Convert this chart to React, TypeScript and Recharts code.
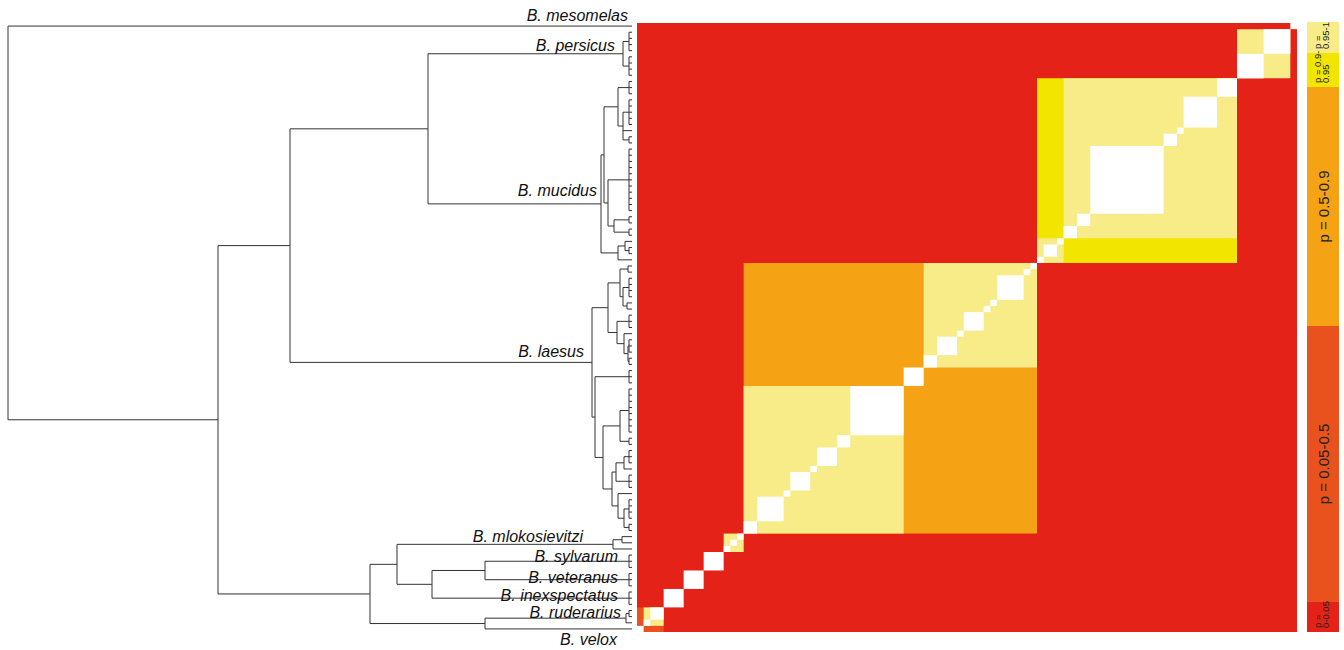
import React from "react";
import {
  ComposedChart,
  Line,
  Scatter,
  XAxis,
  YAxis,
  ReferenceArea,
  BarChart,
  Bar,
} from "recharts";

const W = 1344;
const H = 650;

type Tree = number | string | Tree[];

// subtrees: [height, ...children]; a bare number k = run of k identical haplotypes
// leaves are listed bottom (B. velox) to top (B. mesomelas)
const veloxTree: Tree = 1;
const ruderariusTree: Tree = [6, 1, 2];
const inexspectatusTree: Tree = 3;
const veteranusTree: Tree = 3;
const sylvarumTree: Tree = 3;
const mlokosievitziTree: Tree = [19, 1, [10, 1, 1]];
const laesusA: Tree = [29, [20, [14, [8, 2, 4], 1], [16, 3, [8, 1, 3]]], [12, 2, 8]];
const laesusB: Tree = [24, [15, [8, [4, 2, 3], 1], 3], [12, [9, [5, 1, 1], 4], [4, 1, 1]]];
const laesusTree: Tree = [40, [37, laesusA, 3], laesusB];
const mucidusTree: Tree = [31, [14, 1, [7, 2, 1]], [28, [24, [18, 2, 2], 11], [14, [9, 2, 1, 5], 3]]];
const persicusTree: Tree = [9, 4, 4];
const mesomelasTree: Tree = 1;

const speciesTrees: Record<string, Tree> = {
  "B. velox": veloxTree,
  "B. ruderarius": ruderariusTree,
  "B. inexspectatus": inexspectatusTree,
  "B. veteranus": veteranusTree,
  "B. sylvarum": sylvarumTree,
  "B. mlokosievitzi": mlokosievitziTree,
  "B. laesus": laesusTree,
  "B. mucidus": mucidusTree,
  "B. persicus": persicusTree,
  "B. mesomelas": mesomelasTree,
};

const backbone: Tree = [
  624,
  [
    414,
    [262, [147, "B. velox", "B. ruderarius"], [235, [200, "B. inexspectatus", [147, "B. veteranus", "B. sylvarum"]], "B. mlokosievitzi"]],
    [342, "B. laesus", [204, "B. mucidus", "B. persicus"]],
  ],
  "B. mesomelas",
];

// heatmap clusters (leaf index ranges) and their probability class
const blockStart = [0, 1, 13, 16, 16, 43, 60, 60, 64, 90];
const blockEnd = [4, 4, 16, 60, 40, 60, 90, 64, 90, 98];
const blockClass = [1, 4, 4, 2, 4, 4, 3, 4, 4, 4];

// legend, bottom to top
const pColors = ["#E42218", "#E9521C", "#F5A315", "#F2E500", "#F7EC88"];
const pSizes = [30, 276, 239, 34, 31];
const pLines = [["p =", "0-0.05"], ["p = 0.05-0.5"], ["p = 0.5-0.9"], ["p = 0.9-", "0.95"], ["p =", "0.95-1"]];

// label placement: [right edge (distance units), vertical offset px from branch]
const labelLayout: Record<string, [number, number]> = {
  "B. mesomelas": [4, -5],
  "B. persicus": [17, -3],
  "B. mucidus": [35, -8],
  "B. laesus": [48, -5],
  "B. mlokosievitzi": [49, -2],
  "B. sylvarum": [14, 1],
  "B. veteranus": [14, 3],
  "B. inexspectatus": [14, 3],
  "B. ruderarius": [11, 0],
  "B. velox": [15, 16],
};

const RUN_H = 3;
const N_LEAVES = 99;

function buildDendrogram() {
  const pts: { d: number; y: number | null }[] = [];
  const runs: { start: number; size: number }[] = [];
  const clades: Record<string, { d: number; y: number }> = {};
  let next = 0;
  const seg = (d1: number, y1: number, d2: number, y2: number) => {
    pts.push({ d: d1, y: y1 }, { d: d2, y: y2 }, { d: d2, y: null });
  };
  const join = (h: number, kids: { d: number; y: number }[]) => {
    const ys = kids.map((k) => k.y);
    const lo = Math.min(...ys);
    const hi = Math.max(...ys);
    seg(h, lo, h, hi);
    kids.forEach((k) => seg(h, k.y, k.d, k.y));
    return { d: h, y: (lo + hi) / 2 };
  };
  const walk = (t: Tree): { d: number; y: number } => {
    if (typeof t === "string") {
      const p = walk(speciesTrees[t]);
      clades[t] = p;
      return p;
    }
    if (typeof t === "number") {
      const start = next;
      next += t;
      runs.push({ start, size: t });
      if (t === 1) return { d: 0, y: start + 0.5 };
      return join(
        RUN_H,
        Array.from({ length: t }, (_, i) => ({ d: 0, y: start + i + 0.5 }))
      );
    }
    const [h, ...kids] = t;
    return join(h as number, kids.map(walk));
  };
  walk(backbone);
  return { pts, runs, clades };
}

const { pts, runs, clades } = buildDendrogram();

const labelPts = Object.keys(clades).map((name) => ({
  d: labelLayout[name][0],
  y: clades[name].y,
  name,
  dy: labelLayout[name][1],
}));

const renderSpeciesLabel = (props: any) => {
  const { cx, cy, payload } = props;
  return (
    <text
      x={cx}
      y={cy + payload.dy}
      textAnchor="end"
      fontSize={16}
      fontStyle="italic"
      fill="#111"
    >
      {payload.name}
    </text>
  );
};

const LegendLabel = (props: any) => {
  const { lines } = props;
  const x = Number(props.x);
  const y = Number(props.y);
  const w = Number(props.width);
  const h = Number(props.height);
  const cx = x + w / 2;
  if (lines.length === 1) {
    const cy = y + h / 2;
    return (
      <text
        x={cx}
        y={cy}
        transform={`rotate(-90 ${cx} ${cy})`}
        textAnchor="middle"
        dominantBaseline="central"
        fontSize={15}
        fill="#222"
      >
        {lines[0]}
      </text>
    );
  }
  const by = y + h - 4;
  return (
    <g>
      {lines.map((ln: string, i: number) => {
        const lx = cx - 2 + i * 8;
        return (
          <text
            key={i}
            x={lx}
            y={by}
            transform={`rotate(-90 ${lx} ${by})`}
            textAnchor="start"
            fontSize={9.5}
            fill="#222"
          >
            {ln}
          </text>
        );
      })}
    </g>
  );
};

const legendRow: Record<string, any> = { k: "p" };
pSizes.forEach((s, i) => (legendRow[`s${i}`] = s));

const layer: React.CSSProperties = { position: "absolute", left: 0, top: 0 };

export default function App() {
  return (
    <div
      style={{
        position: "absolute",
        left: 0,
        top: 0,
        width: W,
        height: H,
        background: "#fff",
        fontFamily: '"Liberation Sans", Arial, sans-serif',
      }}
    >
      <div style={layer}>
        <ComposedChart
          width={W}
          height={H}
          data={[{ x: 0, y: 0 }]}
          margin={{ top: 23, bottom: 18, left: 637, right: 47 }}
        >
          <XAxis type="number" dataKey="x" domain={[0, N_LEAVES]} hide allowDataOverflow />
          <YAxis type="number" dataKey="y" domain={[0, N_LEAVES]} hide allowDataOverflow />
          <ReferenceArea x1={0} x2={N_LEAVES} y1={0} y2={N_LEAVES} fill={pColors[0]} fillOpacity={1} stroke="none" />
          {blockStart.map((s, i) => (
            <ReferenceArea
              key={`b${i}`}
              x1={s}
              x2={blockEnd[i]}
              y1={s}
              y2={blockEnd[i]}
              fill={pColors[blockClass[i]]}
              fillOpacity={1}
              stroke="none"
            />
          ))}
          {runs.map((r, i) => (
            <ReferenceArea
              key={`r${i}`}
              x1={r.start}
              x2={r.start + r.size}
              y1={r.start}
              y2={r.start + r.size}
              fill="#ffffff"
              fillOpacity={1}
              stroke="none"
            />
          ))}
        </ComposedChart>
      </div>
      <div style={layer}>
        <ComposedChart
          width={W}
          height={H}
          data={pts}
          margin={{ top: 23, bottom: 18, left: 8, right: 712 }}
        >
          <XAxis type="number" dataKey="d" domain={[0, 624]} reversed hide />
          <YAxis type="number" dataKey="y" domain={[0, N_LEAVES]} hide />
          <Line
            type="linear"
            dataKey="y"
            stroke="#333"
            strokeWidth={1}
            dot={false}
            activeDot={false}
            connectNulls={false}
            isAnimationActive={false}
          />
          <Scatter data={labelPts} shape={renderSpeciesLabel} isAnimationActive={false} />
        </ComposedChart>
      </div>
      <div style={layer}>
        <BarChart
          width={W}
          height={H}
          data={[legendRow]}
          margin={{ top: 22, bottom: 18, left: 1307, right: 5 }}
          barCategoryGap={0}
          barGap={0}
        >
          <XAxis dataKey="k" hide />
          <YAxis type="number" domain={[0, 610]} hide allowDataOverflow />
          {pColors.map((c, i) => (
            <Bar
              key={i}
              dataKey={`s${i}`}
              stackId="p"
              fill={c}
              isAnimationActive={false}
              label={(p: any) => <LegendLabel {...p} lines={pLines[i]} />}
            />
          ))}
        </BarChart>
      </div>
    </div>
  );
}
